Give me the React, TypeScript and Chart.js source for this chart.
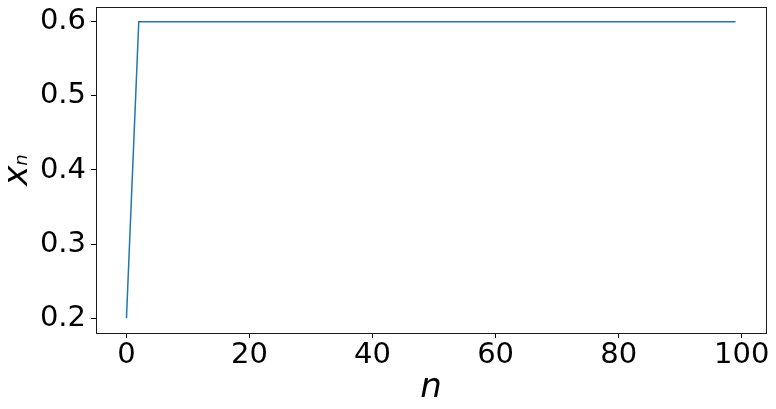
import React, { useEffect, useRef } from "react";
import { Chart, registerables } from "chart.js";

Chart.register(...registerables);

// x_n values of the iteration, n = 0..99
const xnValues: number[] = [
  0.2, 0.4, 0.6, 0.6, 0.6, 0.6, 0.6, 0.6, 0.6, 0.6,
  0.6, 0.6, 0.6, 0.6, 0.6, 0.6, 0.6, 0.6, 0.6, 0.6,
  0.6, 0.6, 0.6, 0.6, 0.6, 0.6, 0.6, 0.6, 0.6, 0.6,
  0.6, 0.6, 0.6, 0.6, 0.6, 0.6, 0.6, 0.6, 0.6, 0.6,
  0.6, 0.6, 0.6, 0.6, 0.6, 0.6, 0.6, 0.6, 0.6, 0.6,
  0.6, 0.6, 0.6, 0.6, 0.6, 0.6, 0.6, 0.6, 0.6, 0.6,
  0.6, 0.6, 0.6, 0.6, 0.6, 0.6, 0.6, 0.6, 0.6, 0.6,
  0.6, 0.6, 0.6, 0.6, 0.6, 0.6, 0.6, 0.6, 0.6, 0.6,
  0.6, 0.6, 0.6, 0.6, 0.6, 0.6, 0.6, 0.6, 0.6, 0.6,
  0.6, 0.6, 0.6, 0.6, 0.6, 0.6, 0.6, 0.6, 0.6, 0.6,
];

const xTickValues: number[] = [0, 20, 40, 60, 80, 100];
const xTickLabels: string[] = ["0", "20", "40", "60", "80", "100"];
const yTickValues: number[] = [0.2, 0.3, 0.4, 0.5, 0.6];
const yTickLabels: string[] = ["0.2", "0.3", "0.4", "0.5", "0.6"];

const FONT = "'DejaVu Sans', sans-serif";

const framePlugin = {
  id: "frameAndLabels",
  afterDraw(chart: any) {
    const { ctx, chartArea } = chart;
    const { left, right, top, bottom } = chartArea;
    ctx.save();
    ctx.strokeStyle = "#1a1a1a";
    ctx.lineWidth = 1;
    ctx.strokeRect(
      Math.round(left) + 0.5,
      Math.round(top) + 0.5,
      Math.round(right) - Math.round(left),
      Math.round(bottom) - Math.round(top)
    );
    ctx.fillStyle = "#000";
    // x axis label: italic n
    ctx.font = `italic 34px ${FONT}`;
    ctx.textAlign = "center";
    ctx.textBaseline = "alphabetic";
    ctx.fillText("n", (left + right) / 2, 397);
    // y axis label: x_n rotated
    const cy = (top + bottom) / 2;
    ctx.translate(27, cy);
    ctx.rotate(-Math.PI / 2);
    ctx.font = `italic 34px ${FONT}`;
    const wx = ctx.measureText("x").width;
    ctx.font = `italic 18px ${FONT}`;
    const wn = ctx.measureText("n").width;
    const total = wx + wn;
    ctx.textAlign = "left";
    ctx.font = `italic 34px ${FONT}`;
    ctx.fillText("x", -total / 2, 0);
    ctx.font = `italic 18px ${FONT}`;
    ctx.fillText("n", -total / 2 + wx, 0);
    ctx.restore();
  },
};

export default function App() {
  const canvasRef = useRef<HTMLCanvasElement | null>(null);

  useEffect(() => {
    if (!canvasRef.current) return;
    const points = xnValues.map((v, i) => ({ x: i, y: v }));
    const chart = new Chart(canvasRef.current, {
      type: "line",
      data: {
        datasets: [
          {
            data: points,
            borderColor: "#1f77b4",
            borderWidth: 1.5,
            pointRadius: 0,
            fill: false,
            tension: 0,
          },
        ],
      },
      options: {
        animation: false,
        responsive: false,
        maintainAspectRatio: false,
        layout: { padding: { left: 0, right: 10, top: 7, bottom: 0 } },
        plugins: {
          legend: { display: false },
          tooltip: { enabled: false },
        },
        scales: {
          x: {
            type: "linear",
            min: -4.95,
            max: 103.95,
            afterBuildTicks: (scale: any) => {
              scale.ticks = xTickValues.map((v) => ({ value: v }));
            },
            afterFit: (scale: any) => {
              scale.height = 76;
              scale.paddingLeft = 0;
              scale.paddingRight = 0;
            },
            ticks: {
              color: "#000",
              font: { family: FONT, size: 29 },
              padding: 0,
              maxRotation: 0,
              autoSkip: false,
              callback: (value: any) => {
                const idx = xTickValues.indexOf(Number(value));
                return idx >= 0 ? xTickLabels[idx] : "";
              },
            },
            grid: {
              drawOnChartArea: false,
              drawTicks: true,
              tickLength: 5,
              color: "#000",
            },
            border: { display: false },
          },
          y: {
            type: "linear",
            min: 0.18,
            max: 0.62,
            afterBuildTicks: (scale: any) => {
              scale.ticks = yTickValues.map((v) => ({ value: v }));
            },
            afterFit: (scale: any) => {
              scale.width = 96;
              scale.paddingTop = 0;
              scale.paddingBottom = 0;
            },
            ticks: {
              color: "#000",
              font: { family: FONT, size: 29 },
              padding: 5,
              autoSkip: false,
              callback: (value: any) => {
                const idx = yTickValues.findIndex(
                  (t) => Math.abs(t - Number(value)) < 1e-9
                );
                return idx >= 0 ? yTickLabels[idx] : "";
              },
            },
            grid: {
              drawOnChartArea: false,
              drawTicks: true,
              tickLength: 5,
              color: "#000",
            },
            border: { display: false },
          },
        },
      },
      plugins: [framePlugin],
    });
    return () => chart.destroy();
  }, []);

  return (
    <div
      style={{
        position: "fixed",
        left: 0,
        top: 0,
        width: 776,
        height: 409,
        background: "#fff",
      }}
    >
      <canvas ref={canvasRef} width={776} height={409} />
    </div>
  );
}
